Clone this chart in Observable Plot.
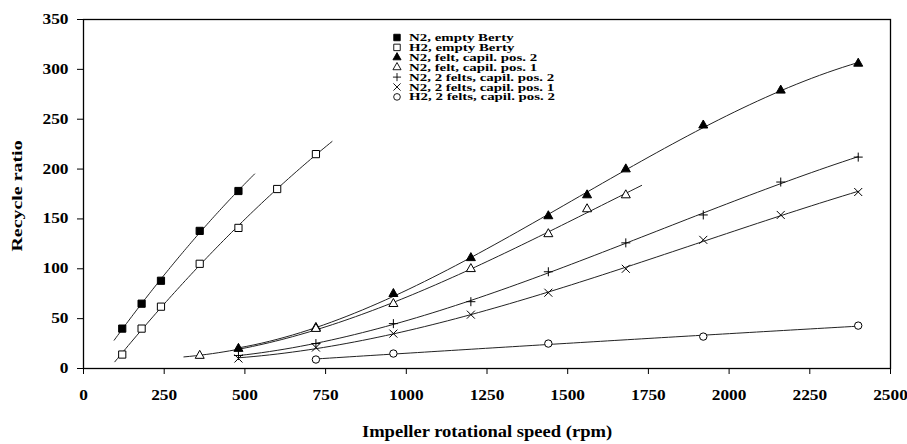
<!DOCTYPE html>
<html>
<head>
<meta charset="utf-8">
<script src="https://cdn.jsdelivr.net/npm/d3@7"></script>
<script src="https://cdn.jsdelivr.net/npm/@observablehq/plot@0.6"></script>
<style>
  html, body { margin: 0; padding: 0; background: #fff; }
</style>
</head>
<body>
<div id="chart"></div>
<script>
// ---- tick labels / titles ----
const xTicks = [0, 250, 500, 750, 1000, 1250, 1500, 1750, 2000, 2250, 2500];
const yTicks = [0, 50, 100, 150, 200, 250, 300, 350];
const xTitle = "Impeller rotational speed (rpm)";
const yTitle = "Recycle ratio";

// ---- legend labels ----
const seriesNames = [
  "N2, empty Berty",
  "H2, empty Berty",
  "N2, felt, capil. pos. 2",
  "N2, felt, capil. pos. 1",
  "N2, 2 felts, capil. pos. 2",
  "N2, 2 felts, capil. pos. 1",
  "H2, 2 felts, capil. pos. 2"
];

// ---- series values (rpm, recycle ratio) ----
const rpmN2Empty = [120, 180, 240, 360, 480];
const ratioN2Empty = [40, 65, 88, 138, 178];

const rpmH2Empty = [120, 180, 240, 360, 480, 600, 720];
const ratioH2Empty = [14, 40, 62, 105, 141, 180, 215];

const rpmN2FeltPos2 = [480, 720, 960, 1200, 1440, 1560, 1680, 1920, 2160, 2400];
const ratioN2FeltPos2 = [20, 41, 75, 111, 153, 174, 200, 244, 279, 306];

const rpmN2FeltPos1 = [360, 720, 960, 1200, 1440, 1560, 1680];
const ratioN2FeltPos1 = [13, 40, 65, 100, 135, 160, 174];

const rpmN22FeltsPos2 = [480, 720, 960, 1200, 1440, 1680, 1920, 2160, 2400];
const ratioN22FeltsPos2 = [13, 25, 45, 67, 97, 126, 154, 187, 212];

const rpmN22FeltsPos1 = [480, 720, 960, 1200, 1440, 1680, 1920, 2160, 2400];
const ratioN22FeltsPos1 = [10, 21, 35, 54, 76, 100, 129, 154, 177];

const rpmH22FeltsPos2 = [720, 960, 1440, 1920, 2400];
const ratioH22FeltsPos2 = [9, 15, 25, 32, 43];

// ---- trend-line extents (rpm) ----
const fitFrom = [95, 97, 480, 311, 480, 480, 720];
const fitTo = [530, 770, 2400, 1729, 2400, 2400, 2400];
const fitDegree = [2, 2, 3, 3, 3, 3, 2];

// ---- marker symbols ----
const sym = {
  square: {draw(c) { c.rect(-3.6, -3.6, 7.2, 7.2); }},
  triangle: {draw(c) { c.moveTo(0, -5.2); c.lineTo(4.5, 2.8); c.lineTo(-4.5, 2.8); c.closePath(); }},
  plus: {draw(c) { c.moveTo(-4.5, 0); c.lineTo(4.5, 0); c.moveTo(0, -4.5); c.lineTo(0, 4.5); }},
  times: {draw(c) { c.moveTo(-4, -4); c.lineTo(4, 4); c.moveTo(4, -4); c.lineTo(-4, 4); }},
  circle: {draw(c) { c.moveTo(3.7, 0); c.arc(0, 0, 3.7, 0, 2 * Math.PI); }}
};
const seriesStyle = [
  {symbol: sym.square, fill: "black", stroke: "black"},
  {symbol: sym.square, fill: "white", stroke: "black"},
  {symbol: sym.triangle, fill: "black", stroke: "black"},
  {symbol: sym.triangle, fill: "white", stroke: "black"},
  {symbol: sym.plus, fill: "none", stroke: "black"},
  {symbol: sym.times, fill: "none", stroke: "black"},
  {symbol: sym.circle, fill: "white", stroke: "black"}
];

const rpmLists = [rpmN2Empty, rpmH2Empty, rpmN2FeltPos2, rpmN2FeltPos1, rpmN22FeltsPos2, rpmN22FeltsPos1, rpmH22FeltsPos2];
const ratioLists = [ratioN2Empty, ratioH2Empty, ratioN2FeltPos2, ratioN2FeltPos1, ratioN22FeltsPos2, ratioN22FeltsPos1, ratioH22FeltsPos2];

// least-squares polynomial trend line (as drawn in the original)
function polyfit(xs, ys, deg) {
  const n = deg + 1;
  const A = Array.from({length: n}, () => new Array(n).fill(0));
  const b = new Array(n).fill(0);
  xs.forEach((x0, k) => {
    const x = x0 / 1000;
    for (let i = 0; i < n; i++) {
      b[i] += ys[k] * Math.pow(x, i);
      for (let j = 0; j < n; j++) A[i][j] += Math.pow(x, i + j);
    }
  });
  for (let c = 0; c < n; c++) {
    let p = c;
    for (let r = c + 1; r < n; r++) if (Math.abs(A[r][c]) > Math.abs(A[p][c])) p = r;
    [A[c], A[p]] = [A[p], A[c]]; [b[c], b[p]] = [b[p], b[c]];
    for (let r = 0; r < n; r++) {
      if (r === c) continue;
      const f = A[r][c] / A[c][c];
      for (let j = c; j < n; j++) A[r][j] -= f * A[c][j];
      b[r] -= f * b[c];
    }
  }
  return b.map((v, i) => v / A[i][i]);
}

const points = [];
const curves = [];
seriesNames.forEach((name, s) => {
  rpmLists[s].forEach((x, i) => points.push({series: s, x, y: ratioLists[s][i]}));
  const coef = polyfit(rpmLists[s], ratioLists[s], fitDegree[s]);
  const N = 80;
  for (let i = 0; i <= N; i++) {
    const x = fitFrom[s] + (fitTo[s] - fitFrom[s]) * i / N;
    const t = x / 1000;
    const y = coef.reduce((acc, c, k) => acc + c * Math.pow(t, k), 0);
    curves.push({series: s, x, y});
  }
});

const dotMarks = seriesNames.map((name, s) =>
  Plot.dot(points.filter(d => d.series === s), {
    x: "x", y: "y",
    symbol: seriesStyle[s].symbol,
    fill: seriesStyle[s].fill,
    stroke: seriesStyle[s].stroke,
    strokeWidth: 1
  })
);

const chart = Plot.plot({
  width: 907,
  height: 444,
  marginLeft: 83,
  marginRight: 17,
  marginTop: 19,
  marginBottom: 76,
  style: {fontFamily: "'Liberation Serif', 'Times New Roman', serif", fontWeight: "bold", fontSize: "14px", background: "white", color: "black", overflow: "visible"},
  x: {domain: [0, 2500], ticks: xTicks, tickFormat: d => String(d), tickSize: 6, tickPadding: 16, label: null},
  y: {domain: [0, 350], ticks: yTicks, tickFormat: d => String(d), tickSize: 6, tickPadding: 9, label: null},
  marks: [
    Plot.line(curves, {x: "x", y: "y", z: "series", stroke: "#222", strokeWidth: 1}),
    ...dotMarks,
    Plot.frame({stroke: "black", strokeWidth: 1.3}),
    Plot.text([xTitle], {text: d => d, frameAnchor: "bottom", dy: 63, fontSize: 16, fontWeight: "bold", lineAnchor: "middle", textAnchor: "middle"}),
    Plot.text([yTitle], {text: d => d, frameAnchor: "left", dx: -66, dy: 2, rotate: -90, fontSize: 15, fontWeight: "bold", lineAnchor: "middle", textAnchor: "middle"})
  ]
});

document.getElementById("chart").appendChild(chart);

// The original typesetting is horizontally wide; stretch glyphs along the reading direction.
function stretch(el, sx) {
  const tr = el.getAttribute("transform");
  if (tr) {
    el.setAttribute("transform", tr + ` scale(${sx},1)`);
  } else {
    const x = +el.getAttribute("x") || 0, y = +el.getAttribute("y") || 0;
    el.removeAttribute("x"); el.removeAttribute("y");
    el.setAttribute("transform", `translate(${x},${y}) scale(${sx},1)`);
  }
}
const svg = chart.tagName.toLowerCase() === "svg" ? chart : chart.querySelector("svg");
svg.querySelectorAll("text").forEach(t => {
  const s = t.textContent === xTitle ? 1.16 : t.textContent === yTitle ? 1.33 : 1.24;
  stretch(t, s);
});

// legend (inside plot area)
const legendMarkerX = 397, legendTextX = 409, legendTop = 37.5, legendStep = 9.9;
const lg = d3.select(svg).append("g")
  .attr("font-family", "'Liberation Serif', 'Times New Roman', serif")
  .attr("font-weight", "bold")
  .attr("font-size", 10.5)
  .attr("text-anchor", "start");
seriesNames.forEach((name, s) => {
  const cy = legendTop + s * legendStep;
  lg.append("path")
    .attr("d", d3.symbol(seriesStyle[s].symbol)())
    .attr("transform", `translate(${legendMarkerX},${cy}) scale(0.9)`)
    .attr("fill", seriesStyle[s].fill)
    .attr("stroke", seriesStyle[s].stroke)
    .attr("stroke-width", 1);
  lg.append("text")
    .attr("transform", `translate(${legendTextX},${cy}) scale(1.42,1)`)
    .attr("text-anchor", "start")
    .attr("dy", "0.34em")
    .attr("fill", "black")
    .text(name);
});
</script>
</body>
</html>
